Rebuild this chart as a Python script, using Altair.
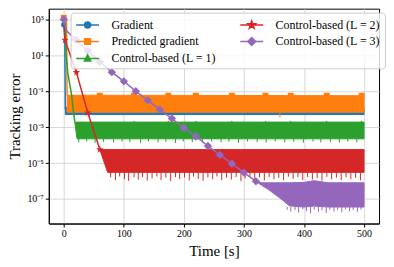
import altair as alt
import pandas as pd

FONT = "Liberation Serif"

names = ["Gradient", "Predicted gradient", "Control-based (L = 1)",
         "Control-based (L = 2)", "Control-based (L = 3)"]
colors = ["#1f77b4", "#ff7f0e", "#2ca02c", "#d62728", "#9467bd"]

x_ticks = [0, 100, 200, 300, 400, 500]
y_tick_exp = [3, 1, -1, -3, -5, -7]
y_tick_labels = ["10³", "10¹", "10⁻¹", "10⁻³", "10⁻⁵", "10⁻⁷"]

# ---- values are log10 of the tracking error ----
# Gradient
grad_t = [0, 1.5, 2.5]
grad_e = [2.7, 2.6, -2.0]
grad_band_t = [2.5, 500]
grad_band_hi = [-1.9, -1.9]
grad_band_lo = [-2.3, -2.3]
grad_spike_t = []
grad_spike_e = []
grad_mark_t = [0]
grad_mark_e = [2.7]

# Predicted gradient
pred_t = [0, 4.5, 5.5]
pred_e = [3.1, 3.0, -1.25]
pred_band_t = [5.5, 500]
pred_band_hi = [-1.22, -1.25]
pred_band_lo = [-2.17, -2.17]
pred_spike_t = [360]
pred_spike_e = [-2.46]
pred_mark_t = [0, 60, 117, 174, 220, 280, 336, 378, 438, 496]
pred_mark_e = [3.1, -1.25, -1.25, -1.25, -1.25, -1.25, -1.25, -1.25, -1.25, -1.25]

# Control-based (L = 1)
c1_t = [0, 2.5, 4, 6.5, 13, 16, 18.5]
c1_e = [2.8, 2.6, 1.0, 0.05, -1.2, -2.1, -2.75]
c1_band_t = [18.5, 22, 500]
c1_band_hi = [-2.75, -2.72, -2.72]
c1_band_lo = [-2.75, -3.65, -3.65]
c1_spike_t = [25, 38, 52, 66, 83, 97, 110, 128, 141, 157, 170, 186, 199, 214,
              231, 246, 262, 275, 291, 306, 322, 337, 352, 368, 383, 399, 415,
              428, 444, 459, 473, 488]
c1_spike_e = [-3.85, -3.8, -3.88, -3.82, -3.86, -3.8, -3.84, -3.9, -3.8, -3.85,
              -3.82, -3.88, -3.8, -3.84, -3.86, -3.8, -3.85, -3.82, -3.88, -3.8,
              -3.84, -3.86, -3.8, -3.85, -3.82, -3.87, -3.8, -3.85, -3.83, -3.86,
              -3.8, -3.84]
c1_mark_t = [117, 174, 220, 280, 336, 378, 438, 496]
c1_mark_e = [-2.78, -2.78, -2.78, -2.78, -2.78, -2.78, -2.78, -2.78]

# Control-based (L = 2)
c2_t = [0, 2, 21, 40, 60]
c2_e = [2.6, 1.85, 0.05, -2.2, -4.25]
c2_band_t = [60, 73, 500]
c2_band_hi = [-4.25, -4.25, -4.25]
c2_band_lo = [-4.25, -5.52, -5.52]
c2_spike_t = [78, 86, 93, 101, 108, 117, 124, 131, 139, 147, 155, 162, 170, 178,
              186, 193, 201, 209, 216, 224, 232, 240, 248, 255, 263, 271, 279,
              287, 295, 302, 310, 318, 326, 334, 342, 350, 358, 366, 374, 382,
              390, 398, 406, 414, 422, 430, 438, 446, 454, 462, 470, 478, 486, 494]
c2_spike_e = [-5.8, -5.95, -5.75, -5.9, -6.0, -5.8, -5.92, -5.78, -5.97, -5.85,
              -5.75, -5.95, -5.82, -6.0, -5.78, -5.9, -5.8, -5.96, -5.76, -5.88,
              -5.98, -5.8, -5.9, -5.75, -5.95, -5.82, -5.92, -5.78, -6.0, -5.85,
              -5.76, -5.93, -5.8, -5.97, -5.78, -5.9, -5.82, -5.96, -5.76, -5.88,
              -5.8, -5.95, -5.78, -5.92, -5.84, -5.98, -5.77, -5.9, -5.82, -5.95,
              -5.79, -5.9, -5.83, -5.96]
c2_mark_t = [2, 21, 40, 60]
c2_mark_e = [1.85, 0.05, -2.2, -4.25]

# Control-based (L = 3)
c3_t = [0, 5, 20, 40, 60, 80, 100, 120, 140, 160, 180, 200, 220, 240, 260,
        280, 300, 320]
c3_e = [3.0, 2.35, 1.87, 1.25, 0.64, 0.06, -0.45, -1.0, -1.51, -2.02, -2.52,
        -3.05, -3.52, -4.05, -4.55, -5.04, -5.53, -6.02]
c3_band_t = [320, 330, 341, 363, 376, 400, 417, 440, 500]
c3_band_hi = [-6.02, -6.1, -6.1, -6.1, -6.1, -6.08, -5.98, -6.1, -6.1]
c3_band_lo = [-6.02, -6.25, -6.48, -7.03, -7.39, -7.45, -7.4, -7.45, -7.45]
c3_spike_t = [372, 378, 385, 391, 398, 404, 411, 417, 424, 430, 437, 443, 450,
              456, 463, 469, 476, 482, 489, 495]
c3_spike_e = [-7.6, -7.7, -7.62, -7.75, -7.58, -7.68, -7.8, -7.6, -7.72, -7.64,
              -7.78, -7.6, -7.7, -7.62, -7.74, -7.58, -7.68, -7.62, -7.72, -7.6]
c3_mark_t = [0, 20, 40, 60, 80, 100, 120, 140, 160, 180, 200, 220, 240, 260,
             280, 300, 320]
c3_mark_e = [3.0, 1.87, 1.25, 0.64, 0.06, -0.45, -1.0, -1.51, -2.02, -2.52,
             -3.05, -3.52, -4.05, -4.55, -5.04, -5.53, -6.02]

# ---- marker shapes ----
STAR = ("M0,-1L0.235,-0.324L0.951,-0.309L0.380,0.124L0.588,0.809L0,0.4"
        "L-0.588,0.809L-0.380,0.124L-0.951,-0.309L-0.235,-0.324Z")
plot_shapes = ["circle", "square", "triangle-up", STAR, "diamond"]
plot_sizes = [30, 36, 40, 64, 70]

LINE = "M-1.64,0L1.64,0"
leg_paths = [
    LINE + "M-0.43,0A0.43,0.43 0 1,1 0.43,0A0.43,0.43 0 1,1 -0.43,0Z",
    LINE + "M-0.4,-0.4L0.4,-0.4L0.4,0.4L-0.4,0.4Z",
    LINE + "M0,-0.5L0.45,0.36L-0.45,0.36Z",
    LINE + ("M0,-0.57L0.134,-0.185L0.542,-0.176L0.217,0.071L0.335,0.461L0,0.228"
            "L-0.335,0.461L-0.217,0.071L-0.542,-0.176L-0.134,-0.185Z"),
    LINE + "M0,-0.57L0.57,0L0,0.57L-0.57,0Z",
]

xs = alt.Scale(domain=[-25, 525], nice=False, zero=False)
ys = alt.Scale(type="log", domain=[10 ** -8.37, 10 ** 3.6], nice=False)

expr = ""
for e, lab in zip(y_tick_exp, y_tick_labels):
    expr += f"datum.value > {10 ** (e - 1)} ? '{lab}' : "
expr += "''"

x_axis = alt.Axis(values=x_ticks, title="Time [s]", grid=True, titlePadding=5)
y_axis = alt.Axis(values=[10 ** e for e in y_tick_exp], labelExpr=expr,
                  title="Tracking error", grid=True, titlePadding=4)


def X(f="t"):
    return alt.X(f"{f}:Q", scale=xs, axis=x_axis)


def Y(f="v"):
    return alt.Y(f"{f}:Q", scale=ys, axis=y_axis)


def pw(lst):
    return [10 ** v for v in lst]


def series_layers(i, lt, le, bt, bhi, blo, st, se, mt, me):
    color = colors[i]
    out = []
    band = pd.DataFrame({"t": bt, "hi": pw(bhi), "lo": pw(blo)})
    out.append(alt.Chart(band).mark_area(color=color, opacity=1, clip=True,
                                         stroke=color, strokeWidth=1)
               .encode(x=X(), y=Y("hi"), y2="lo"))
    line = pd.DataFrame({"t": lt, "v": pw(le)})
    out.append(alt.Chart(line).mark_line(color=color, strokeWidth=1.5, clip=True)
               .encode(x=X(), y=Y()))
    if st:
        base = blo[-1]
        sp = pd.DataFrame({"t": st, "v": pw(se), "b": [10 ** base] * len(st)})
        out.append(alt.Chart(sp).mark_rule(color=color, strokeWidth=1, clip=True)
                   .encode(x=X(), y=Y("b"), y2="v"))
    mk = pd.DataFrame({"t": mt, "v": pw(me)})
    out.append(alt.Chart(mk).mark_point(filled=True, shape=plot_shapes[i],
                                        size=plot_sizes[i], color=color,
                                        opacity=1, clip=True)
               .encode(x=X(), y=Y()))
    return out


layers = []
layers += series_layers(0, grad_t, grad_e, grad_band_t, grad_band_hi, grad_band_lo,
                        grad_spike_t, grad_spike_e, grad_mark_t, grad_mark_e)
layers += series_layers(1, pred_t, pred_e, pred_band_t, pred_band_hi, pred_band_lo,
                        pred_spike_t, pred_spike_e, pred_mark_t, pred_mark_e)
layers += series_layers(2, c1_t, c1_e, c1_band_t, c1_band_hi, c1_band_lo,
                        c1_spike_t, c1_spike_e, c1_mark_t, c1_mark_e)
layers += series_layers(3, c2_t, c2_e, c2_band_t, c2_band_hi, c2_band_lo,
                        c2_spike_t, c2_spike_e, c2_mark_t, c2_mark_e)
layers += series_layers(4, c3_t, c3_e, c3_band_t, c3_band_hi, c3_band_lo,
                        c3_spike_t, c3_spike_e, c3_mark_t, c3_mark_e)

# legend: two columns, filled column by column
leg = alt.Legend(title=None, orient="none", legendX=22, legendY=4, columns=2,
                 symbolSize=196, symbolStrokeWidth=1.5, symbolOffset=5,
                 labelOffset=16, labelFont=FONT, labelFontSize=12,
                 labelColor="black", fillColor="rgba(255,255,255,0.8)",
                 strokeColor="#cccccc", cornerRadius=3, padding=4,
                 rowPadding=2, columnPadding=20, symbolOpacity=1)

carrier = alt.Chart(pd.DataFrame({"series": names})).mark_point(
    clip=True, strokeWidth=1.5, opacity=1, size=196).encode(
    x=alt.value(-300), y=alt.value(-300),
    fill=alt.Fill("series:N", scale=alt.Scale(domain=names, range=colors), legend=leg),
    stroke=alt.Stroke("series:N", scale=alt.Scale(domain=names, range=colors), legend=leg),
    shape=alt.Shape("series:N", scale=alt.Scale(domain=names, range=leg_paths), legend=leg),
)

chart = alt.layer(*layers, carrier).properties(
    width=332, height=216,
    padding={"left": 0, "top": 0, "right": 0, "bottom": 0},
).configure(font=FONT).configure_view(stroke="black", strokeWidth=1).configure_axis(
    labelFont=FONT, titleFont=FONT, labelFontSize=10, titleFontSize=15,
    titleFontWeight="normal", labelColor="black", titleColor="black",
    tickColor="black", domainColor="black", tickSize=3.5, labelPadding=2,
    gridColor="#cccccc", gridWidth=0.8,
)

chart.save("out.html", embed_options={"renderer": "svg", "actions": False})
